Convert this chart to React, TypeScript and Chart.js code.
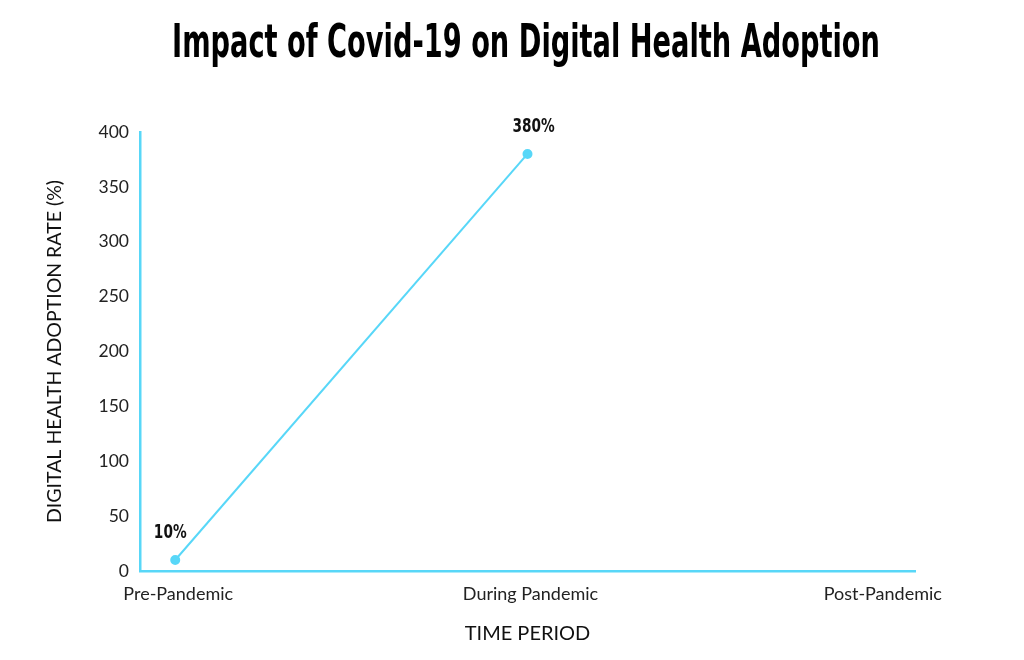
import React, { useEffect, useRef } from "react";
import { Chart, registerables } from "chart.js";

Chart.register(...registerables);

const chartTitle = "Impact of Covid-19 on Digital Health Adoption";
const categories = ["Pre-Pandemic", "During Pandemic", "Post-Pandemic"];
const adoptionRates: (number | null)[] = [10, 380, null];
const yAxisTitle = "DIGITAL HEALTH ADOPTION RATE (%)";
const xAxisTitle = "TIME PERIOD";

const CYAN = "#58D7F8";
const TICK_FONT = "Lato, 'Open Sans', sans-serif";
const NARROW = "'Liberation Sans Narrow', 'DejaVu Sans Condensed', sans-serif";

const titlePlugin = {
  id: "condensedTitle",
  afterDraw(chart: any) {
    const ctx = chart.ctx;
    ctx.save();
    ctx.font = `bold 47px ${NARROW}`;
    const w = ctx.measureText(chartTitle).width;
    const sx = 708 / w;
    ctx.translate(526, 57);
    ctx.scale(sx, 1);
    ctx.fillStyle = "#000";
    ctx.textAlign = "center";
    ctx.textBaseline = "alphabetic";
    ctx.fillText(chartTitle, 0, 0);
    ctx.restore();
  },
};

const valueLabelPlugin = {
  id: "valueLabels",
  afterDatasetsDraw(chart: any) {
    const ctx = chart.ctx;
    const meta = chart.getDatasetMeta(0);
    ctx.save();
    ctx.font = `bold 20px ${NARROW}`;
    ctx.fillStyle = "#111";
    ctx.textAlign = "center";
    ctx.textBaseline = "middle";
    meta.data.forEach((pt: any, i: number) => {
      const v = adoptionRates[i];
      if (v === null || v === undefined) return;
      ctx.save();
      ctx.translate(pt.x + (i === 0 ? -5 : 6), pt.y - 27);
      ctx.scale(0.76, 1);
      ctx.fillText(`${v}%`, 0, 0);
      ctx.restore();
    });
    ctx.restore();
  },
};

export default function App() {
  const canvasRef = useRef<HTMLCanvasElement | null>(null);

  useEffect(() => {
    if (!canvasRef.current) return;
    const chart = new Chart(canvasRef.current, {
      type: "line",
      data: {
        datasets: [
          {
            label: "Adoption",
            data: categories.map((_, i) => ({ x: i, y: adoptionRates[i] as any })),
            borderColor: CYAN,
            backgroundColor: CYAN,
            borderWidth: 2,
            pointRadius: 4,
            pointBackgroundColor: CYAN,
            pointBorderColor: CYAN,
            fill: false,
            tension: 0,
          },
        ],
      },
      options: {
        animation: false,
        responsive: true,
        maintainAspectRatio: false,
        layout: { padding: { top: 132, right: 109, bottom: 0, left: 0 } },
        plugins: {
          legend: { display: false },
          tooltip: { enabled: false },
          title: { display: false },
        },
        scales: {
          x: {
            type: "linear",
            min: -0.1,
            max: 2.1,
            afterFit: (s: any) => {
              s.height = 89;
            },
            afterBuildTicks: (s: any) => {
              s.ticks = categories.map((_, i) => ({ value: i }));
            },
            grid: { display: false, drawTicks: false },
            border: { display: true, color: CYAN, width: 2.5 },
            ticks: {
              padding: 12,
              labelOffset: 3,
              color: "#222",
              font: { family: TICK_FONT, size: 18 },
              callback: (v: any) => categories[Number(v)] ?? "",
            },
            title: {
              display: true,
              text: xAxisTitle,
              color: "#111",
              font: { family: TICK_FONT, size: 20 },
              padding: { top: 0, bottom: 14 },
            },
          },
          y: {
            min: 0,
            max: 400,
            afterFit: (s: any) => {
              s.width = 140;
            },
            grid: { display: false, drawTicks: false },
            border: { display: true, color: CYAN, width: 2.5 },
            ticks: {
              stepSize: 50,
              padding: 11,
              color: "#222",
              font: { family: TICK_FONT, size: 17.5 },
            },
            title: {
              display: true,
              text: yAxisTitle,
              color: "#111",
              font: { family: TICK_FONT, size: 19.5 },
              padding: { top: 43, bottom: 0 },
            },
          },
        },
      },
      plugins: [titlePlugin, valueLabelPlugin],
    });
    return () => chart.destroy();
  }, []);

  return (
    <div style={{ position: "fixed", left: 0, top: 0, width: 1024, height: 660, background: "#fff" }}>
      <canvas ref={canvasRef} />
    </div>
  );
}
